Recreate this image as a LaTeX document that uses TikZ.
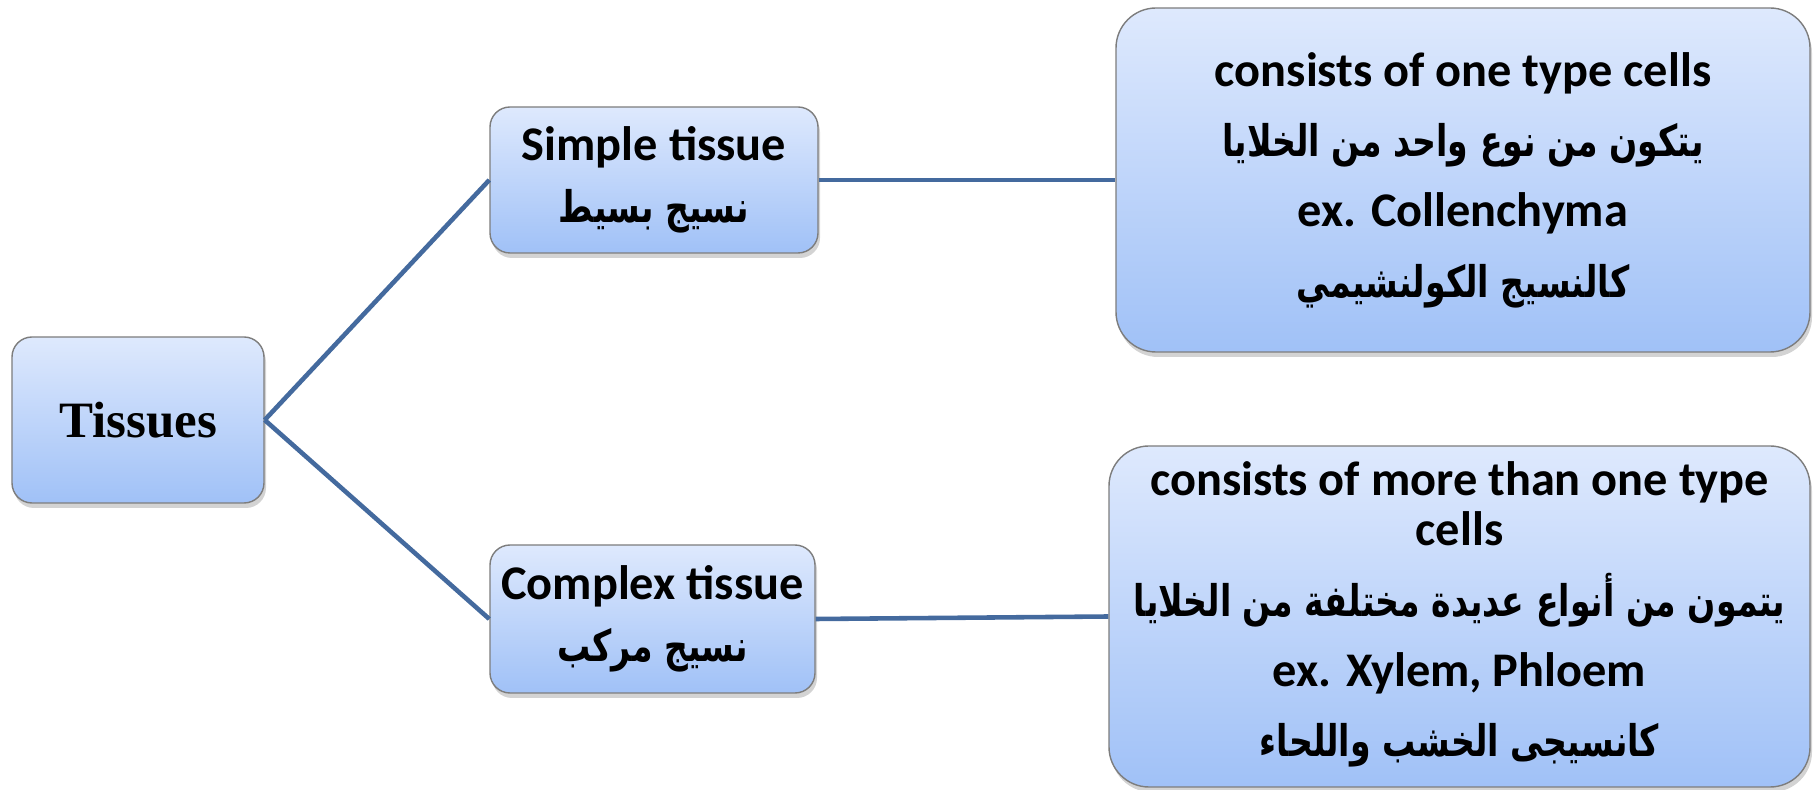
\documentclass[tikz,border=0pt]{standalone}
\usepackage{fontspec}
\setmainfont{Carlito}
\newfontfamily\timesfont{Liberation Serif}
\newfontfamily\arabicfont[Script=Arabic, FakeStretch=0.76]{DejaVu Sans}
\TeXXeTstate=1
\usepackage{xcolor}
\usepackage{tikz}
\usetikzlibrary{positioning, shadows}
\definecolor{boxtop}{RGB}{222,233,253}
\definecolor{boxbottom}{RGB}{160,193,247}
\definecolor{boxline}{RGB}{125,125,125}
\definecolor{linkblue}{RGB}{68,106,158}
\tikzstyle{card} = [rectangle, rounded corners=0.4cm, draw=boxline, line width=0.8pt, top color=boxtop, bottom color=boxbottom, align=center, drop shadow={opacity=0.35, shadow xshift=0.04cm, shadow yshift=-0.1cm}, font=\bfseries\fontsize{27.5}{29}\selectfont]
\tikzstyle{bigcard} = [card, rounded corners=0.8cm]
\tikzstyle{link} = [draw=linkblue, line width=2.6pt]
\newcommand{\arabictext}[1]{{\arabicfont\bfseries\fontsize{24.8}{29}\selectfont\beginR #1\endR}}

\begin{document}
\begin{tikzpicture}[node distance=10cm]
        \useasboundingbox (-2.76,-7.4) rectangle (33.58,8.4);
        \node (tissues) [card, minimum width=5.04cm, minimum height=3.32cm, font=\timesfont\bfseries\fontsize{29}{32}\selectfont] {Tissues};

        \node (simple) [card, right of=tissues, xshift=0.32cm, yshift=4.8cm, minimum width=6.56cm, minimum height=2.92cm] {Simple tissue\\[6pt] \arabictext{نسيج بسيط}};
        \node (complex) [card, right of=tissues, xshift=0.29cm, yshift=-3.98cm, minimum width=6.5cm, minimum height=2.96cm] {Complex tissue\\[6pt] \arabictext{نسيج مركب}};

        \node (simpledesc) [bigcard, right of=simple, xshift=6.18cm, minimum width=13.88cm, minimum height=6.88cm] {consists of one type cells\\[11pt] \arabictext{يتكون من نوع واحد من الخلايا}\\[11pt] ex. Collenchyma\\[11pt] \arabictext{كالنسيج الكولنشيمي}};
        \node (complexdesc) [bigcard, right of=complex, xshift=6.14cm, yshift=0.05cm, minimum width=14.02cm, minimum height=6.82cm, text depth=0.3cm] {consists of more than one type\\ cells\\[11pt] \arabictext{يتمون من أنواع عديدة مختلفة من الخلايا}\\[11pt] ex. Xylem, Phloem\\[11pt] \arabictext{كانسيجى الخشب واللحاء}};

        \draw [link] (tissues.east) -- (simple.west);
        \draw [link] (tissues.east) -- (complex.west);
        \draw [link] (simple.east) -- (simpledesc.west);
        \draw [link] (complex.east) -- (complexdesc.west);
    \end{tikzpicture}
\end{document}
